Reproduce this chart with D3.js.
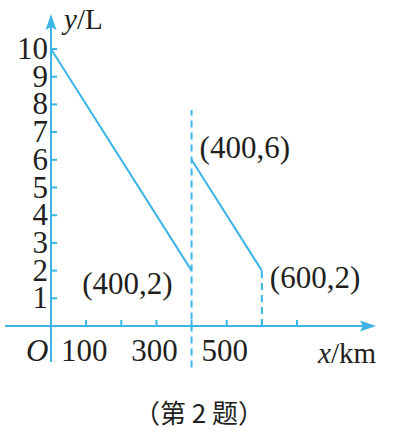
<!DOCTYPE html>
<html><head><meta charset="utf-8">
<script src="https://cdn.jsdelivr.net/npm/d3@7"></script>
<style>
html,body{margin:0;padding:0;background:#fff;}
svg{display:block;}
</style></head>
<body>
<svg id="c" width="395" height="437"></svg>
<script>
// data
const segment1 = [[0,10],[400,2]];
const segment2 = [[400,6],[600,2]];
const dashedX400 = [[400,-1.5],[400,7.8]];
const dashedX600 = [[600,0],[600,2]];
const yTicks = [1,2,3,4,5,6,7,8,9,10];
const xTicks = [100,200,300,400,500,600,700];
const xTickLabels = [100,300,500];
const pointLabels = [
  {x:400,y:2,text:"(400,2)",pos:"left"},
  {x:400,y:6,text:"(400,6)",pos:"rightUp"},
  {x:600,y:2,text:"(600,2)",pos:"right"}
];

const blue = "#3cb4e6";
const ink = "#231f20";
const serif = "'Liberation Serif','Times New Roman',Times,serif";
const svg = d3.select("#c");
const x = d3.scaleLinear().domain([0,700]).range([51,297]);
const y = d3.scaleLinear().domain([0,10]).range([326,49]);

function txt(sel){ return sel.attr("font-family",serif).attr("fill",ink); }

// axes lines
svg.append("line").attr("x1",5).attr("x2",366).attr("y1",y(0)).attr("y2",y(0))
  .attr("stroke",blue).attr("stroke-width",2);
svg.append("line").attr("x1",x(0)).attr("x2",x(0)).attr("y1",362).attr("y2",26)
  .attr("stroke",blue).attr("stroke-width",2);
// arrows
svg.append("path").attr("d",`M${x(0)},14 L${x(0)-5.5},30 L${x(0)},27 L${x(0)+5.5},30 Z`).attr("fill",blue);
svg.append("path").attr("d",`M376,${y(0)} L360,${y(0)-5.5} L363,${y(0)} L360,${y(0)+5.5} Z`).attr("fill",blue);

// ticks
svg.selectAll(".yt").data(yTicks).join("line")
  .attr("x1",x(0)).attr("x2",x(0)+6).attr("y1",d=>y(d)).attr("y2",d=>y(d))
  .attr("stroke",blue).attr("stroke-width",2);
svg.selectAll(".xt").data(xTicks).join("line")
  .attr("x1",d=>x(d)).attr("x2",d=>x(d)).attr("y1",y(0)).attr("y2",y(0)-6)
  .attr("stroke",blue).attr("stroke-width",2);

// tick labels
txt(svg.selectAll(".yl").data(yTicks).join("text"))
  .attr("x",48).attr("y",d=>y(d)+10).attr("text-anchor","end")
  .attr("font-size",31).text(d=>d);
txt(svg.selectAll(".xl").data(xTickLabels).join("text"))
  .attr("x",d=>x(d)-2).attr("y",361).attr("text-anchor","middle")
  .attr("font-size",31).text(d=>d);

// origin
txt(svg.append("text")).attr("x",26).attr("y",361).attr("font-size",31)
  .attr("font-style","italic").text("O");

// axis titles
const yt = txt(svg.append("text")).attr("x",64).attr("y",29).attr("font-size",29);
yt.append("tspan").attr("font-style","italic").text("y");
yt.append("tspan").text("/L");
const xt = txt(svg.append("text")).attr("x",318).attr("y",363).attr("font-size",29);
xt.append("tspan").attr("font-style","italic").text("x");
xt.append("tspan").text("/km");

// dashed lines
const line = d3.line().x(d=>x(d[0])).y(d=>y(d[1]));
svg.append("path").attr("d",line(dashedX400)).attr("stroke",blue).attr("stroke-width",2)
  .attr("stroke-dasharray","7,5").attr("fill","none");
svg.append("path").attr("d",line(dashedX600)).attr("stroke",blue).attr("stroke-width",2)
  .attr("stroke-dasharray","7,5").attr("fill","none");

// segments
[segment1,segment2].forEach(s=>{
  svg.append("path").attr("d",line(s)).attr("stroke",blue).attr("stroke-width",2).attr("fill","none");
});

// point labels
txt(svg.selectAll(".pl").data(pointLabels).join("text"))
  .attr("font-size",31)
  .attr("x",d=>d.pos==="left"? x(d.x)-19 : x(d.x)+8)
  .attr("y",d=>d.pos==="rightUp"? y(d.y)-2 : d.pos==="left"? y(d.y)+23 : y(d.y)+17)
  .attr("text-anchor",d=>d.pos==="left"?"end":"start")
  .text(d=>d.text);

// caption
svg.append("text").attr("x",199).attr("y",423).attr("text-anchor","middle")
  .attr("font-size",26).attr("fill",ink).attr("font-family","'Noto Sans CJK SC',sans-serif")
  .text("（第 2 题）");
</script>
</body></html>
